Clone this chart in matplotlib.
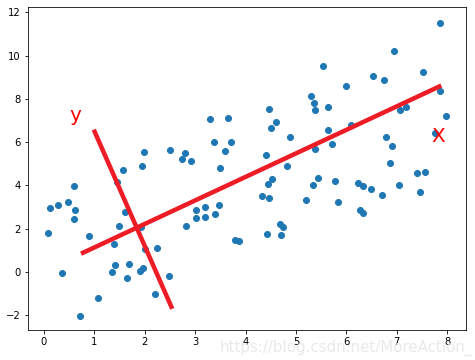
import numpy as np
import matplotlib.pyplot as plt

# scatter points
xs = [0.08, 0.12, 0.28, 0.36, 0.49, 0.61, 0.62, 0.60, 0.71, 0.89,
      1.08, 1.36, 1.40, 1.41, 1.46, 1.49, 1.61, 1.65, 1.70, 1.90,
      1.97, 1.93, 2.00, 2.24, 2.21, 2.48, 2.82, 3.02, 3.02, 3.20,
      3.20, 3.39, 3.47, 3.79, 3.88, 1.58, 1.94, 1.98, 2.51, 2.81,
      2.74, 2.92, 3.29, 3.65, 3.37, 3.72, 3.59, 3.50, 5.53, 5.99,
      5.30, 5.35, 5.38, 5.64, 4.47, 4.60, 4.50, 4.89, 5.64, 5.72,
      5.37, 6.10, 4.40, 7.86, 6.95, 6.53, 6.75, 7.52, 7.86, 7.06,
      7.18, 7.97, 6.79, 6.90, 7.76, 4.83, 4.53, 4.44, 4.33, 4.46,
      5.44, 5.34, 5.78, 5.19, 5.83, 6.23, 6.33, 6.48, 6.26, 6.32,
      6.71, 7.04, 7.45, 4.69, 4.75, 4.42, 4.70, 6.87, 7.39, 7.55]
ys = [1.78, 2.97, 3.07, -0.05, 3.24, 3.95, 2.87, 2.44, -2.05, 1.64,
      -1.20, -0.01, 1.28, 0.30, 4.14, 2.12, 2.75, -0.29, 0.37, 0.05,
      0.16, 2.06, 1.07, 1.11, -1.03, -0.21, 2.13, 2.47, 2.84, 2.52,
      3.01, 2.69, 3.07, 1.47, 1.44, 4.69, 4.87, 5.53, 5.63, 5.50,
      5.20, 5.14, 7.07, 7.12, 5.99, 6.02, 5.57, 4.82, 9.52, 8.58,
      8.12, 7.81, 7.49, 7.61, 7.53, 6.93, 6.65, 6.24, 6.55, 5.89,
      5.70, 6.79, 5.41, 11.53, 10.23, 9.06, 8.86, 9.25, 8.37, 7.49,
      7.60, 7.21, 6.24, 5.82, 6.44, 4.90, 4.27, 4.05, 3.49, 3.39,
      4.35, 4.01, 4.22, 3.32, 3.21, 4.10, 3.96, 3.84, 2.87, 2.72,
      3.53, 4.02, 3.67, 2.21, 2.09, 1.75, 1.70, 5.04, 4.59, 4.62]

# new axes drawn over the data
axis_x_line = ([0.78, 7.84], [0.88, 8.57])
axis_y_line = ([1.01, 2.53], [6.48, -1.62])

fig = plt.figure(figsize=(475 / 72, 360 / 72), dpi=72)
ax = fig.add_axes([0.058, 0.083, 0.923, 0.897])

ax.scatter(xs, ys)
ax.plot(axis_x_line[0], axis_x_line[1], color='#ee1c25', linewidth=4.5)
ax.plot(axis_y_line[0], axis_y_line[1], color='#ee1c25', linewidth=4.5)

ax.text(0.62, 7.25, 'y', color='red', fontsize=20, ha='center', va='center')
ax.text(7.82, 6.25, 'X', color='red', fontsize=20, ha='center', va='center')

ax.set_xlim(-0.32, 8.37)
ax.set_ylim(-2.7, 12.24)
ax.set_yticks(np.arange(-2, 13, 2))

# watermark
fig.text(0.995, 0.01, 'https://blog.csdn.net/MoreAction_', color='#e4e4e4',
         fontsize=15, ha='right', va='bottom', alpha=0.8)

fig.savefig('out.png', dpi=72)
